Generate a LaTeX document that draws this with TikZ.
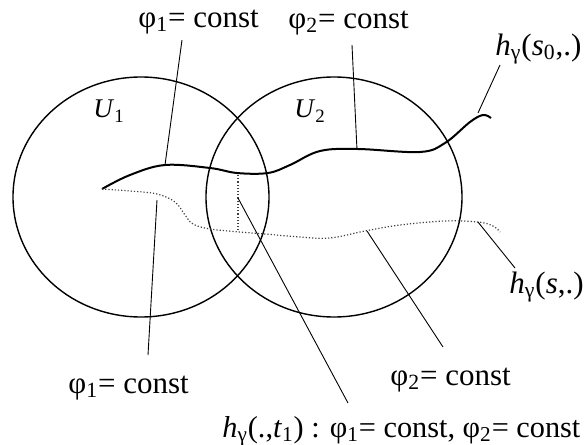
\documentclass[tikz,border=0pt]{standalone}
\usepackage{graphicx}
\usepackage{fontspec}
\setmainfont{Liberation Serif}
\newcommand\subs[1]{\textsubscript{#1}}
\begin{document}
\begin{tikzpicture}[x=0.5pt,y=-0.5pt,
  lbl/.style={inner sep=0pt, anchor=base west, font=\fontsize{15.5}{18}\selectfont},
  ulbl/.style={inner sep=0pt, font=\fontsize{13.5}{16}\selectfont},
  region/.style={line width=0.7pt},
  solidcurve/.style={line width=1pt},
  dotcurve/.style={line width=0.6pt, densely dotted, black!75},
  leader/.style={line width=0.45pt}]
\useasboundingbox (0,0) rectangle (585,445);
% regions
\draw[region] (141,197) ellipse [x radius=128, y radius=120];
\draw[region] (334,197) ellipse [x radius=128, y radius=120];
\node[ulbl] (u1) at (109,111) {\textit{U}\subs{1}};
\node[ulbl] (u2) at (310,111) {\textit{U}\subs{2}};
% curves
\draw[solidcurve] plot[smooth, tension=0.6] coordinates {(102,189) (130,175) (165,165) (210,168) (237,173) (268,173) (290,165) (320,151) (358,149) (420,152) (445,143) (470,122) (483,115) (491,118)};
\draw[dotcurve] plot[smooth, tension=0.6] coordinates {(102,189) (130,191) (157,194) (175,202) (185,215) (193,224) (210,229) (240,232) (265,234) (300,237) (330,238) (365,231) (400,225) (445,221) (478,222) (493,226) (500,232)};
\coordinate (v1) at (238,175);
\coordinate (v2) at (238,230);
\draw[dotcurve] (v1) -- (v2);
% labels
\node[lbl] (tp1) at (138,27) {φ\subs{1}= const};
\node[lbl] (tp2) at (288,28) {φ\subs{2}= const};
\node[lbl] (hs0) at (495,55) {\textit{h}\subs{γ}(\textit{s}\subs{0},.)};
\node[lbl] (hs) at (509,293) {\textit{h}\subs{γ}(\textit{s},.)};
\node[lbl] (bp1) at (68,393) {φ\subs{1}= const};
\node[lbl] (bp2) at (390,385) {φ\subs{2}= const};
\node[lbl] (ht) at (222,437) {\resizebox{179pt}{!}{\textit{h}\subs{γ}(.,\textit{t}\subs{1}) : φ\subs{1}= const, φ\subs{2}= const}};
% leader end points
\coordinate (a1) at (182,40);  \coordinate (b1) at (165,165);
\coordinate (a2) at (352,45);  \coordinate (b2) at (357,150);
\coordinate (a3) at (500,65);  \coordinate (b3) at (478,113);
\coordinate (a4) at (148,355); \coordinate (b4) at (157,200);
\coordinate (a5) at (348,403); \coordinate (b5) at (238,198);
\coordinate (a6) at (443,347); \coordinate (b6) at (367,231);
\coordinate (a7) at (515,268); \coordinate (b7) at (478,222);
\draw[leader] (a1) -- (b1);
\draw[leader] (a2) -- (b2);
\draw[leader] (a3) -- (b3);
\draw[leader] (a4) -- (b4);
\draw[leader] (a5) -- (b5);
\draw[leader] (a6) -- (b6);
\draw[leader] (a7) -- (b7);
\end{tikzpicture}
\end{document}
